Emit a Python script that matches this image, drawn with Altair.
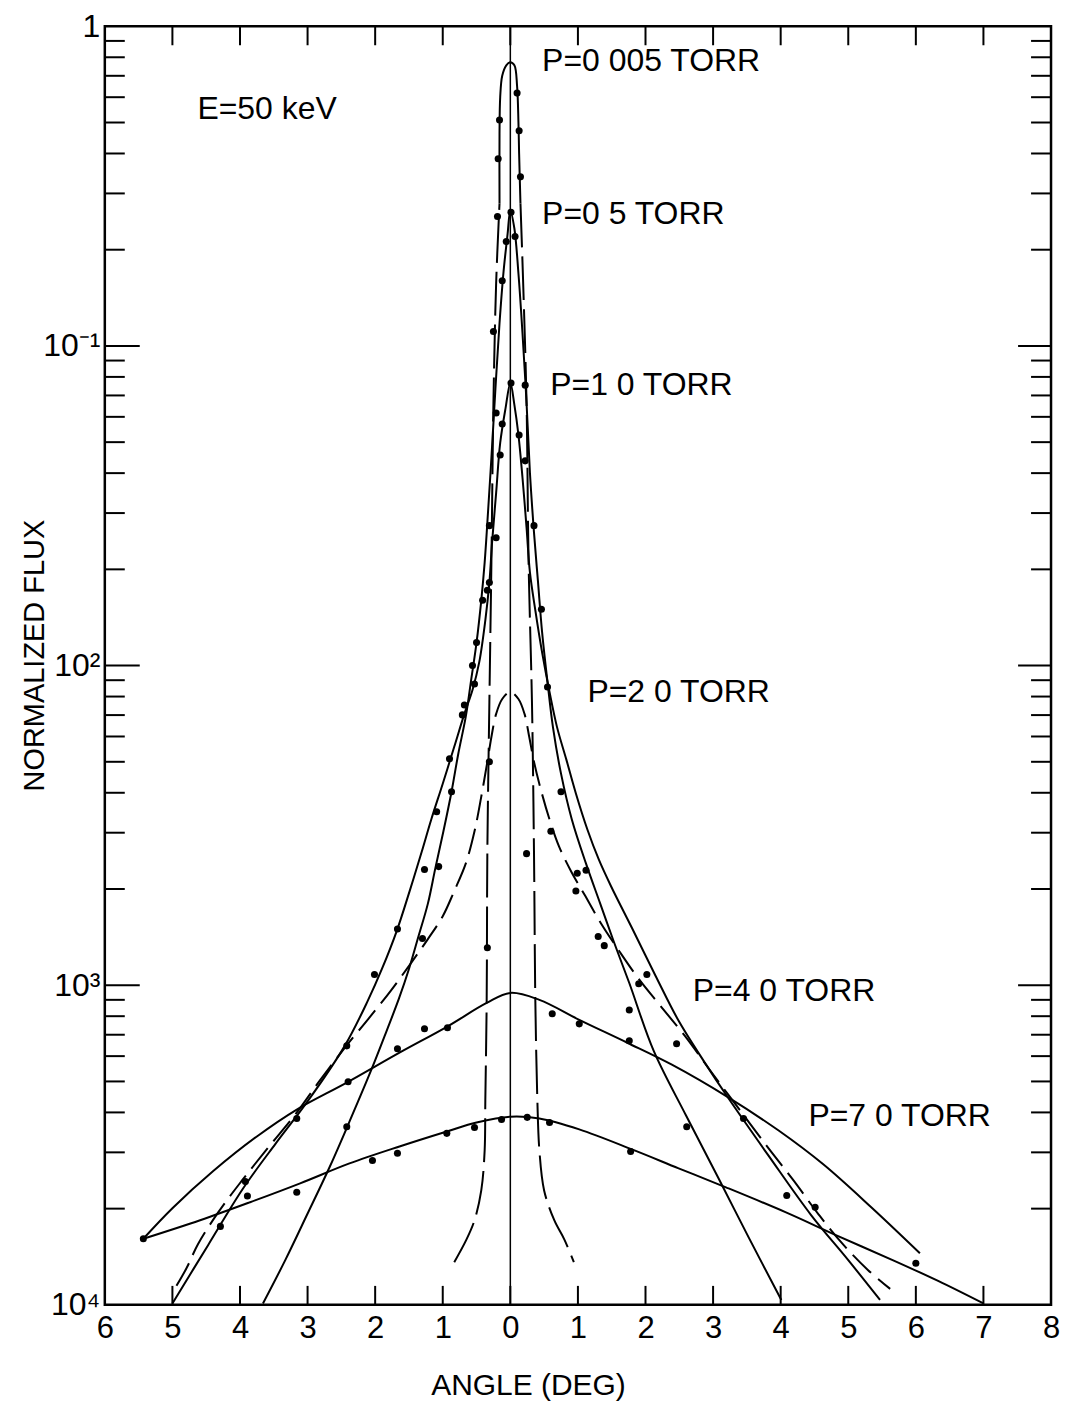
import altair as alt
import pandas as pd

FONT = "Liberation Sans"
W, H = 948, 1281

# ---------------- data ----------------
# P = 0.005 torr : solid narrow peak
p005_peak_x = [-0.16, -0.16, -0.15, -0.12, -0.06, 0.0, 0.06, 0.10, 0.12, 0.13, 0.15]
p005_peak_y = [0.279, 0.461, 0.60, 0.70, 0.755, 0.772, 0.755, 0.65, 0.50, 0.40, 0.279]
# long-dashed tails of the narrow peak
p005_left_x = [-0.83, -0.65, -0.53, -0.43, -0.38, -0.37, -0.35, -0.34, -0.31, -0.28, -0.25, -0.21, -0.16]
p005_left_y = [1.36e-4, 1.60e-4, 1.84e-4, 2.28e-4, 3.04e-4, 4.36e-4, 8.93e-4, 2.62e-3, 7.69e-3, 0.0210, 0.0663, 0.157, 0.279]
p005_right_x = [0.15, 0.19, 0.24, 0.27, 0.32, 0.35, 0.37, 0.40, 0.43, 0.50, 0.65, 0.80, 0.94]
p005_right_y = [0.279, 0.157, 0.0663, 0.0210, 7.69e-3, 2.62e-3, 8.93e-4, 4.36e-4, 3.04e-4, 2.28e-4, 1.84e-4, 1.60e-4, 1.36e-4]

# P = 0.5 torr
p05_x = [-3.66, -3.33, -3.01, -2.67, -2.36, -2.05, -1.83, -1.65, -1.50, -1.36, -1.22, -1.11, -0.99,
         -0.87, -0.77, -0.66, -0.58, -0.50, -0.43, -0.38, -0.34, -0.28, -0.22, -0.16, -0.10, -0.04,
         0.0, 0.06, 0.12, 0.18, 0.24, 0.29, 0.35, 0.41, 0.47, 0.55, 0.63, 0.75, 0.91, 1.12, 1.33,
         1.53, 1.76, 2.12, 2.60, 3.08, 3.53, 4.01]
p05_y = [1.01e-4, 1.38e-4, 1.91e-4, 2.71e-4, 3.83e-4, 5.48e-4, 7.20e-4, 9.06e-4, 1.124e-3, 1.42e-3,
         1.80e-3, 2.32e-3, 3.03e-3, 4.03e-3, 5.30e-3, 6.91e-3, 9.01e-3, 0.0118, 0.0160, 0.0210, 0.0280,
         0.0447, 0.0738, 0.1177, 0.1710, 0.2246, 0.265, 0.233, 0.1685, 0.1096, 0.0663, 0.0401, 0.0261,
         0.0182, 0.01272, 0.00888, 0.00643, 0.00459, 0.00330, 0.00240, 0.00180, 0.00137, 0.001016,
         0.000624, 0.000391, 0.000249, 0.000162, 0.0001036]

# P = 1.0 torr
p1_x = [-5.00, -4.47, -3.95, -3.47, -2.99, -2.45, -2.11, -1.90, -1.68, -1.49, -1.31, -1.17, -1.00,
        -0.83, -0.68, -0.56, -0.46, -0.37, -0.31, -0.27, -0.21, -0.15, -0.07, 0.0, 0.06, 0.12, 0.18,
        0.24, 0.29, 0.37, 0.47, 0.58, 0.69, 0.83, 0.97, 1.14, 1.31, 1.49, 1.80, 2.15, 2.49, 2.86,
        3.23, 3.82, 4.45, 5.00, 5.47]
p1_y = [1.01e-4, 1.54e-4, 2.32e-4, 3.20e-4, 4.36e-4, 6.46e-4, 8.93e-4, 1.124e-3, 1.48e-3, 1.97e-3,
        2.62e-3, 3.30e-3, 4.27e-3, 5.57e-3, 7.06e-3, 8.39e-3, 0.01025, 0.01386, 0.0182, 0.0243, 0.0347,
        0.0497, 0.0640, 0.0765, 0.0654, 0.0527, 0.0387, 0.0270, 0.01956, 0.01489, 0.0110, 0.00827,
        0.00643, 0.00507, 0.00398, 0.00307, 0.00247, 0.00204, 0.00151, 0.001069, 0.000774, 0.000580,
        0.000442, 0.000293, 0.000191, 0.000138, 0.0001036]

# P = 2.0 torr (dashed)
p2_x = [-4.94, -4.79, -4.62, -4.32, -3.97, -3.58, -3.17, -2.82, -2.45, -2.10, -1.77, -1.47, -1.22,
        -1.00, -0.83, -0.66, -0.53, -0.43, -0.34, -0.28, -0.21, -0.12, 0.0, 0.12, 0.21, 0.28, 0.35,
        0.46, 0.58, 0.72, 0.90, 1.11, 1.34, 1.61, 1.90, 2.22, 2.58, 2.96, 3.38, 3.79, 4.19, 4.56,
        4.93, 5.29, 5.62]
p2_y = [1.147e-4, 1.304e-4, 1.55e-4, 1.95e-4, 2.45e-4, 3.11e-4, 3.97e-4, 5.03e-4, 6.37e-4, 7.85e-4,
        9.60e-4, 1.173e-3, 1.394e-3, 1.644e-3, 1.97e-3, 2.40e-3, 3.03e-3, 3.89e-3, 5.00e-3, 5.98e-3,
        7.06e-3, 7.86e-3, 8.27e-3, 7.86e-3, 7.06e-3, 5.98e-3, 5.00e-3, 4.03e-3, 3.30e-3, 2.72e-3,
        2.27e-3, 1.90e-3, 1.563e-3, 1.28e-3, 1.046e-3, 8.62e-4, 6.95e-4, 5.40e-4, 4.11e-4, 3.15e-4,
        2.45e-4, 1.92e-4, 1.54e-4, 1.286e-4, 1.122e-4]

# P = 4.0 torr
p4_x = [-5.43, -5.00, -4.40, -3.75, -3.16, -2.42, -1.64, -0.94, -0.35, 0.0, 0.43, 1.02, 1.73, 2.39,
        3.23, 3.97, 4.63, 5.34, 6.06]
p4_y = [1.61e-4, 2.006e-4, 2.617e-4, 3.364e-4, 4.084e-4, 4.957e-4, 6.15e-4, 7.41e-4, 8.80e-4,
        9.46e-4, 8.995e-4, 7.79e-4, 6.607e-4, 5.64e-4, 4.45e-4, 3.51e-4, 2.752e-4, 2.02e-4, 1.45e-4]

# P = 7.0 torr
p7_x = [-5.43, -4.59, -3.85, -3.11, -2.38, -1.64, -0.94, -0.50, 0.0, 0.43, 1.02, 1.80, 2.49,
        3.19, 4.07, 4.85, 5.69, 6.33, 7.00]
p7_y = [1.61e-4, 1.84e-4, 2.095e-4, 2.40e-4, 2.77e-4, 3.13e-4, 3.487e-4, 3.72e-4, 3.88e-4,
        3.83e-4, 3.54e-4, 3.064e-4, 2.674e-4, 2.332e-4, 1.95e-4, 1.641e-4, 1.371e-4, 1.188e-4, 1.01e-4]

# measured points (dots)
dot_x = [-0.16, -0.18, -0.19, 0.10, 0.13, 0.15, 0.01, -0.06, 0.07, -0.12, -0.25, 0.22, 0.01, -0.21,
         -0.12, -0.15, 0.13, 0.22, 0.35, -0.31, -0.21, -0.31, -0.34, -0.41, 0.46, -0.50, -0.56,
         -0.53, 0.55, -0.68, -0.71, -0.90, -0.31, -0.87, 0.75, -1.09, 0.60, 0.24, -1.27, -1.06,
         0.99, 1.12, 0.97, -1.67, -1.30, 1.30, 1.39, -0.34, -2.01, 2.02, 1.90, 1.76, 0.62, 1.02,
         -1.27, -0.93, 1.76, 2.46, -2.42, -1.67, -2.40, -3.16, 3.45, 2.61, -2.42, -0.53, -0.13,
         0.25, 0.58, -0.94, 1.78, -1.67, -2.04, -3.92, -3.89, -3.16, 4.09, 4.51, -4.29, -5.43, 6.00]
dot_y = [0.509, 0.385, 0.254, 0.618, 0.471, 0.338, 0.262, 0.212, 0.220, 0.160, 0.111, 0.0754,
         0.0765, 0.0617, 0.0570, 0.0456, 0.0526, 0.0437, 0.0274, 0.0274, 0.0251, 0.0182, 0.0172,
         0.0160, 0.0150, 0.0118, 0.0100, 0.00876, 0.00857, 0.00753, 0.00701, 0.00511, 0.00500,
         0.00403, 0.00403, 0.00349, 0.00303, 0.00258, 0.00230, 0.00235, 0.00224, 0.00229, 0.00197,
         0.00150, 0.00140, 0.00142, 0.00133, 0.00131, 0.00108, 0.00108, 0.00101, 0.000837,
         0.000814, 0.000757, 0.000731, 0.000736, 0.000670, 0.000656, 0.000646, 0.000633, 0.000499,
         0.000383, 0.000383, 0.000361, 0.000361, 0.000359, 0.000380, 0.000386, 0.000372, 0.000344,
         0.000302, 0.000298, 0.000283, 0.000243, 0.000219, 0.000225, 0.000220, 0.000202, 0.000176,
         0.000161, 0.000135]

# annotations
label_text = ["E=50 keV", "P=0 005 TORR", "P=0 5  TORR", "P=1 0  TORR", "P=2 0  TORR",
              "P=4 0   TORR", "P=7 0  TORR"]
label_x = [-4.63, 0.47, 0.47, 0.59, 1.14, 2.70, 4.41]
label_y = [0.551, 0.778, 0.259, 0.0755, 0.00826, 0.00096, 0.000391]

# axes ticks and labels
x_tick_values = [-6, -5, -4, -3, -2, -1, 0, 1, 2, 3, 4, 5, 6, 7, 8]
x_inner_ticks = [-5, -4, -3, -2, -1, 0, 1, 2, 3, 4, 5, 6, 7]
y_label_values = [1e-4, 1e-3, 1e-2, 1e-1, 1]
y_major_ticks = [1e-3, 1e-2, 1e-1]
y_minor_ticks = [2e-4, 3e-4, 4e-4, 5e-4, 6e-4, 7e-4, 8e-4, 9e-4,
                 2e-3, 3e-3, 4e-3, 5e-3, 6e-3, 7e-3, 8e-3, 9e-3,
                 2e-2, 3e-2, 4e-2, 5e-2, 6e-2, 7e-2, 8e-2, 9e-2,
                 0.2, 0.3, 0.4, 0.5, 0.6, 0.7, 0.8, 0.9]


def frame(name, xs, ys):
    assert len(xs) == len(ys), name
    return pd.DataFrame({"series": name, "order": list(range(len(xs))), "x": xs, "y": ys})


solid_df = pd.concat([
    frame("P=0.005", p005_peak_x, p005_peak_y),
    frame("P=0.5", p05_x, p05_y),
    frame("P=1.0", p1_x, p1_y),
    frame("P=4.0", p4_x, p4_y),
    frame("P=7.0", p7_x, p7_y),
])
long_dash_df = pd.concat([
    frame("P=0.005 L", p005_left_x, p005_left_y),
    frame("P=0.005 R", p005_right_x, p005_right_y),
])
dash_df = frame("P=2.0", p2_x, p2_y)
dots_df = pd.DataFrame({"x": dot_x, "y": dot_y})
labels_df = pd.DataFrame({"x": label_x, "y": label_y, "label": label_text})

# ---------------- scales / axes ----------------
x_scale = alt.Scale(domain=[-6, 8], nice=False, zero=False)
y_scale = alt.Scale(type="log", domain=[1e-4, 1], nice=False)

x_axis = alt.Axis(
    values=x_tick_values, labelExpr="'' + abs(datum.value)", ticks=False, domain=False,
    grid=False, labelFont=FONT, labelFontSize=31, labelColor="black", labelPadding=9,
    labelFlush=False, labelOverlap=False, labelBound=False,
    title="ANGLE (DEG)", titleFont=FONT, titleFontSize=30, titleFontWeight="normal",
    titleColor="black", titleX=424, titleY=81, titleAlign="center", titleBaseline="middle",
)
y_axis = alt.Axis(
    values=y_label_values,
    labelExpr="datum.value > 0.5 ? '1' : datum.value > 0.05 ? '10⁻¹' : datum.value > 0.005 ? '10²' : datum.value > 0.0005 ? '10³' : '10⁴'",
    ticks=False, domain=False, grid=False, labelFont=FONT, labelFontSize=32,
    labelColor="black", labelPadding=5, labelFlush=False, labelOverlap=False, labelBound=False,
    title="NORMALIZED FLUX", titleFont=FONT, titleFontSize=29, titleFontWeight="normal",
    titleColor="black", titleX=-70, titleY=630, titleAlign="center", titleBaseline="middle",
    titleAngle=270,
)


def X():
    return alt.X("x:Q", scale=x_scale, axis=x_axis)


def Y():
    return alt.Y("y:Q", scale=y_scale, axis=y_axis)


solid = alt.Chart(solid_df).mark_line(color="black", strokeWidth=2, interpolate="catmull-rom").encode(
    x=X(), y=Y(), detail="series:N", order="order:Q")
long_dash = alt.Chart(long_dash_df).mark_line(
    color="black", strokeWidth=2, interpolate="catmull-rom", strokeDash=[44, 9]).encode(
    x=X(), y=Y(), detail="series:N", order="order:Q")
dash = alt.Chart(dash_df).mark_line(
    color="black", strokeWidth=2, interpolate="catmull-rom", strokeDash=[26, 9]).encode(
    x=X(), y=Y(), detail="series:N", order="order:Q")
dots = alt.Chart(dots_df).mark_circle(color="black", size=50, opacity=1).encode(x=X(), y=Y())
labels = alt.Chart(labels_df).mark_text(
    align="left", baseline="middle", font=FONT, fontSize=32, color="black").encode(
    x=X(), y=Y(), text="label:N")

center_line = alt.Chart(pd.DataFrame({"x": [0]})).mark_rule(color="black", strokeWidth=1.5).encode(x=X())

xt = pd.DataFrame({"x": x_inner_ticks})
bottom_ticks = alt.Chart(xt).mark_rule(color="black", strokeWidth=2).encode(
    x=X(), y=alt.value(H), y2=alt.value(H - 19))
top_ticks = alt.Chart(xt).mark_rule(color="black", strokeWidth=2).encode(
    x=X(), y=alt.value(0), y2=alt.value(19))

ymaj = pd.DataFrame({"y": y_major_ticks})
ymin = pd.DataFrame({"y": y_minor_ticks})
left_major = alt.Chart(ymaj).mark_rule(color="black", strokeWidth=2).encode(
    y=Y(), x=alt.value(0), x2=alt.value(35))
left_minor = alt.Chart(ymin).mark_rule(color="black", strokeWidth=2).encode(
    y=Y(), x=alt.value(0), x2=alt.value(20))
right_major = alt.Chart(ymaj).mark_rule(color="black", strokeWidth=2).encode(
    y=Y(), x=alt.value(W), x2=alt.value(W - 33))
right_minor = alt.Chart(ymin).mark_rule(color="black", strokeWidth=2).encode(
    y=Y(), x=alt.value(W), x2=alt.value(W - 20))

chart = alt.layer(
    center_line, bottom_ticks, top_ticks, left_major, left_minor, right_major, right_minor,
    long_dash, dash, solid, dots, labels,
).properties(
    width=W, height=H,
    autosize=alt.AutoSizeParams(type="none"),
    padding={"left": 97, "top": 17, "right": 10, "bottom": 95},
    background="white",
).configure_view(stroke="black", strokeWidth=2.5)

chart.save("out.html", embed_options={"renderer": "svg", "actions": False})
